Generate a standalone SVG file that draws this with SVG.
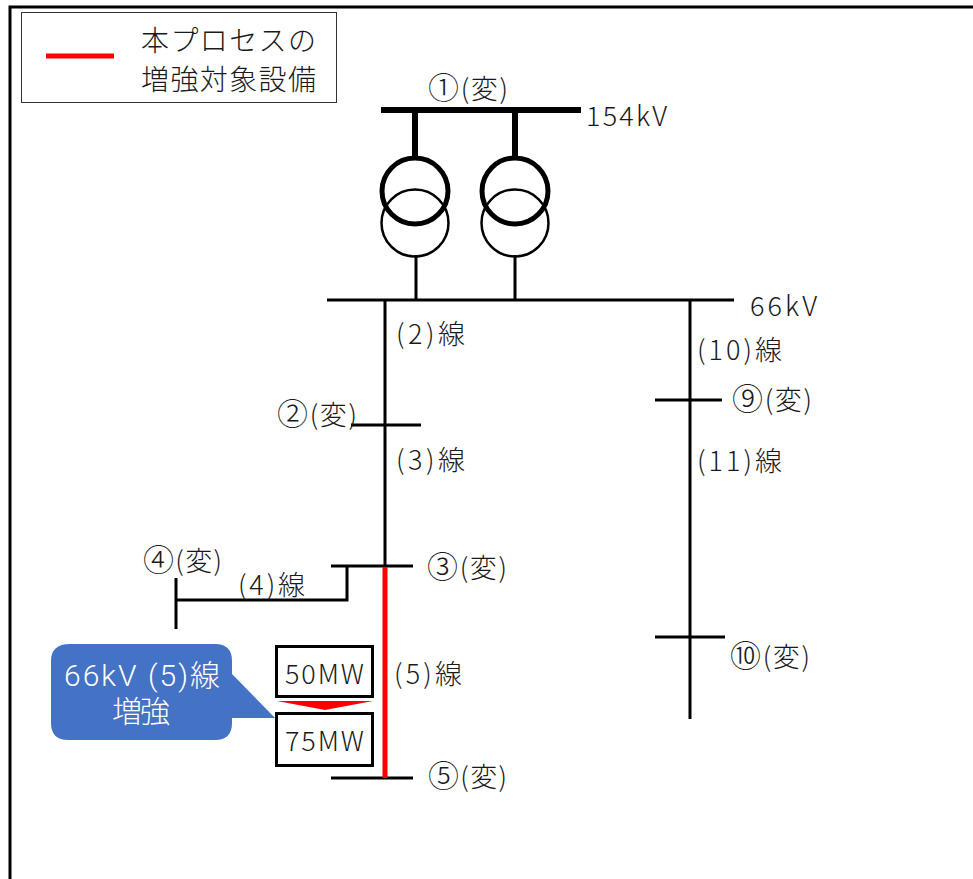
<svg xmlns="http://www.w3.org/2000/svg" width="973" height="879" viewBox="0 0 973 879">
<style>
text{font-family:"Noto Sans CJK JP","Noto Sans",sans-serif;font-size:27px;fill:#1a1a1a;font-weight:300}
.c{font-size:31px}
.w{fill:#fff;font-size:30px;font-family:Roboto,"Noto Sans CJK JP",sans-serif}
.l{stroke:#000;stroke-width:3;fill:none}
.h{stroke:#000;stroke-width:6;fill:none}
.box{fill:#fff;stroke:#000;stroke-width:3}
</style>
<rect width="973" height="879" fill="#fff"/>
<path d="M10 879V7H973" fill="none" stroke="#000" stroke-width="3"/>
<g id="legend">
<rect x="21.500" y="12.500" width="315" height="90" fill="#fff" stroke="#333" stroke-width="1"/>
<line x1="46" y1="56" x2="114" y2="56" stroke="#f00" stroke-width="5"/>
<text x="141" y="51" style="font-size:28px" textLength="175">本プロセスの</text>
<text x="141" y="90" style="font-size:28px" textLength="175">増強対象設備</text>
</g>
<g id="connectors">
<path class="h" d="M381 110H581M415 110V160M515 110V160"/>
<path class="l" d="M416 255V300M515 255V300M327 300H734M385 300V567M690 300V719M351 425H421M655 400H722M655 637H725M331 566H413M347 566V600H176M176 578V629M331 778H413"/>
<line x1="385" y1="567" x2="385" y2="778" stroke="#f00" stroke-width="5"/>
</g>
<g id="transformer1">
<circle cx="415" cy="223" r="33.500" fill="none" stroke="#000" stroke-width="2.500"/>
<circle cx="415" cy="191" r="33" fill="none" stroke="#000" stroke-width="5"/>
</g>
<g id="transformer2">
<circle cx="515" cy="223" r="33.500" fill="none" stroke="#000" stroke-width="2.500"/>
<circle cx="515" cy="191" r="33" fill="none" stroke="#000" stroke-width="5"/>
</g>
<g id="labels">
<text x="428" y="99" textLength="80"><tspan class="c">①</tspan>(変)</text>
<text x="586" y="126" textLength="81">154kV</text>
<text x="750" y="316" textLength="67">66kV</text>
<text x="396" y="344" textLength="69">(2)線</text>
<text x="277" y="425" textLength="80"><tspan class="c">②</tspan>(変)</text>
<text x="396" y="470" textLength="69">(3)線</text>
<text x="697" y="360" textLength="85">(10)線</text>
<text x="732" y="410" textLength="80"><tspan class="c">⑨</tspan>(変)</text>
<text x="697" y="471" textLength="85">(11)線</text>
<text x="427" y="578" textLength="80"><tspan class="c">③</tspan>(変)</text>
<text x="143" y="571" textLength="79"><tspan class="c">④</tspan>(変)</text>
<text x="238" y="595" textLength="67">(4)線</text>
<text x="394" y="684" textLength="68">(5)線</text>
<text x="730" y="667" textLength="80"><tspan class="c">⑩</tspan>(変)</text>
<text x="428" y="787" textLength="79"><tspan class="c">⑤</tspan>(変)</text>
</g>
<g id="callout">
<path d="M70 644H215Q232 644 232 661V674L275 718H232V723Q232 740 215 740H68Q51 740 51 723V661Q51 644 70 644Z" fill="#4472c4"/>
<text class="w" x="142" y="686" text-anchor="middle" textLength="156">66kV (5)線</text>
<text class="w" x="141" y="722" text-anchor="middle" textLength="58">増強</text>
</g>
<g id="cap50">
<rect x="276.500" y="646.500" width="96" height="50" class="box"/>
<text x="285" y="684" textLength="79">50MW</text>
</g>
<g id="arrow">
<polygon points="277,701 373,701 325,710" fill="#f00"/>
</g>
<g id="cap75">
<rect x="276.500" y="713.500" width="96" height="52" class="box"/>
<text x="285" y="751" textLength="79">75MW</text>
</g>
</svg>
